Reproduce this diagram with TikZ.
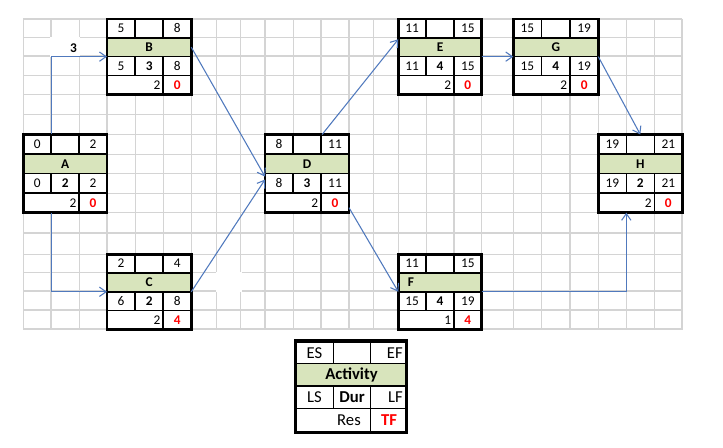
\documentclass[tikz,border=0pt]{standalone}
\usepackage{fontspec}
\setmainfont{Carlito}
\usetikzlibrary{arrows.meta,calc}
\definecolor{gridGray}{HTML}{D4D4D4}
\definecolor{taskGreen}{HTML}{D8E4BC}
\definecolor{linkBlue}{HTML}{5079BD}
\definecolor{slackRed}{HTML}{FF0000}

\tikzset{
  gridline/.style={gridGray, line width=1pt},
  boxframe/.style={draw=black, line width=2pt, inner sep=0pt, outer sep=0pt, anchor=north west},
  cellline/.style={black, line width=1.2pt},
  celltext/.style={font=\fontsize{10}{12}\selectfont, inner sep=0pt, text=black},
  keytext/.style={font=\fontsize{12.5}{14}\selectfont, inner sep=0pt, text=black},
  link/.style={linkBlue, line width=0.8pt, -{Straight Barb[length=5pt,width=7pt]}},
}

\begin{document}
\begin{tikzpicture}[x=0.75pt,y=-0.75pt]
  \useasboundingbox (0,0) rectangle (723,448);
  % sheet grid
  \foreach \gx in {23.3,51,79.3,107,135.3,163.3,191.3,216.7,240.7,265,293.3,321,349,373.3,398.3,426.7,454,481.7,513.3,541.7,570,598.3,626.3,654.3,682.3}
    \draw[gridline] (\gx,19) -- (\gx,329.3);
  \foreach \gy in {19,37.7,56,75.3,94.3,114.3,134.5,154.3,173.3,193.3,212.7,233,254.3,272.5,291,310,329.3}
    \draw[gridline] (23.3,\gy) -- (682.3,\gy);
  \draw[gridGray, line width=1.6pt] (682.3,19) -- (682.3,329.3) -- (23.3,329.3);
  % white cells hide their grid lines
  \fill[white] (50.2,36.9) rectangle (80.1,56.8);
  \fill[white] (215.9,271.7) rectangle (241.5,291.8);

  % activity boxes
  \foreach \n/\xa/\ya/\xb/\yb/\es/\ef/\ls/\du/\lf/\rs/\tf/\lp in {
      A/23.3/134.5/107/212.7/0/2/0/2/2/2/0/0.5,
      B/107/19/191.3/94.3/5/8/5/3/8/2/0/0.5,
      C/107/254.3/191.3/329.3/2/4/6/2/8/2/4/0.5,
      D/265/134.5/349/212.7/8/11/8/3/11/2/0/0.5,
      E/398.3/19/481.7/94.3/11/15/11/4/15/2/0/0.5,
      F/398.3/254.3/481.7/329.3/11/15/15/4/19/1/4/0.15,
      G/513.3/19/598.3/94.3/15/19/15/4/19/2/0/0.5,
      H/598.3/134.5/682.3/212.7/19/21/19/2/21/2/0/0.5}{
    \pgfmathsetmacro\cw{(\xb-\xa)/3}
    \pgfmathsetmacro\rh{(\yb-\ya)/4}
    \fill[white] (\xa,\ya) rectangle (\xb,\yb);
    \fill[taskGreen] (\xa,{\ya+\rh}) rectangle (\xb,{\ya+2*\rh});
    \draw[cellline] (\xa,{\ya+\rh}) -- (\xb,{\ya+\rh})
      (\xa,{\ya+2*\rh}) -- (\xb,{\ya+2*\rh})
      (\xa,{\ya+3*\rh}) -- (\xb,{\ya+3*\rh})
      ({\xa+\cw},\ya) -- ({\xa+\cw},{\ya+\rh})
      ({\xa+\cw},{\ya+2*\rh}) -- ({\xa+\cw},{\ya+3*\rh})
      ({\xa+2*\cw},\ya) -- ({\xa+2*\cw},{\ya+\rh})
      ({\xa+2*\cw},{\ya+2*\rh}) -- ({\xa+2*\cw},\yb);
    \node[boxframe, minimum width={(\xb-\xa)*0.75pt}, minimum height={(\yb-\ya)*0.75pt}] (\n) at (\xa,\ya) {};
    \node[celltext] (\n-es) at ({\xa+0.5*\cw},{\ya+0.5*\rh}) {\es};
    \node[celltext] (\n-ef) at ({\xa+2.5*\cw},{\ya+0.5*\rh}) {\ef};
    \node[celltext] (\n-name) at ({\xa+\lp*(\xb-\xa)},{\ya+1.5*\rh}) {\textbf{\n}};
    \node[celltext] (\n-ls) at ({\xa+0.5*\cw},{\ya+2.5*\rh}) {\ls};
    \node[celltext] (\n-dur) at ({\xa+1.5*\cw},{\ya+2.5*\rh}) {\textbf{\du}};
    \node[celltext] (\n-lf) at ({\xa+2.5*\cw},{\ya+2.5*\rh}) {\lf};
    \node[celltext, anchor=east] (\n-res) at ({\xa+2*\cw-2.5},{\ya+3.5*\rh}) {\rs};
    \node[celltext, text=slackRed] (\n-tf) at ({\xa+2.5*\cw},{\ya+3.5*\rh}) {\textbf{\tf}};
  }

  % links
  \draw[link] ($(A.north west)!1/3!(A.north east)$) |- node[celltext, pos=0.7, above=3pt] (lagAB) {\textbf{3}} (B.west);
  \draw[link] ($(A.south west)!1/3!(A.south east)$) |- (C.west);
  \draw[link] ($(B.north east)!0.375!(B.south east)$) -- ($(D.west)+(0,3)$);
  \draw[link] (C.east) -- ($(D.west)+(0,6)$);
  \draw[link] ($(D.north west)!0.68!(D.north east)$) -- ($(E.north west)!0.27!(E.south west)$);
  \draw[link] (E.east) -- (G.west);
  \draw[link] (G.east) -- (H.north);
  \draw[link] ($(D.south east)+(0,-5)$) -- (F.west);
  \draw[link] (F.east) -| ($(H.south west)!1/3!(H.south east)$);

  % key
  \fill[taskGreen] (296,363.3) rectangle (406,386);
  \draw[black, line width=0.8pt] (296,363.3) -- (406,363.3) (296,386) -- (406,386) (296,408.3) -- (406,408.3)
    (333.3,341) -- (333.3,363.3) (333.3,386) -- (333.3,408.3) (370.7,341) -- (370.7,363.3) (370.7,386) -- (370.7,432);
  \node[draw=black, line width=2.6pt, inner sep=0pt, outer sep=0pt, minimum width={111*0.75pt}, minimum height={91.5*0.75pt}, anchor=north west] (key) at (295.6,341) {};
  \node[keytext] (key-es) at (314.5,353.5) {ES};
  \node[keytext, anchor=east] (key-ef) at (403,353.5) {EF};
  \node[keytext] (key-name) at (351.5,374.7) {\textbf{Activity}};
  \node[keytext] (key-ls) at (314.5,397) {LS};
  \node[keytext] (key-dur) at (352,397) {\textbf{Dur}};
  \node[keytext, anchor=east] (key-lf) at (403,397) {LF};
  \node[keytext] (key-res) at (349,420) {Res};
  \node[keytext, text=slackRed] (key-tf) at (389,420) {\textbf{TF}};
\end{tikzpicture}
\end{document}
